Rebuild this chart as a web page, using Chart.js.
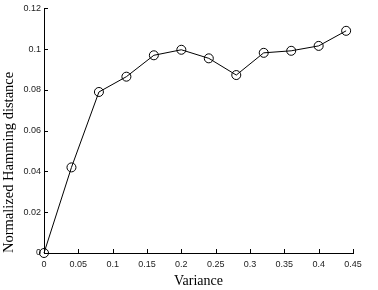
<!DOCTYPE html>
<html>
<head>
<meta charset="utf-8">
<script src="https://cdn.jsdelivr.net/npm/chart.js@4"></script>
<style>
  html, body { margin: 0; padding: 0; background: #fff; }
  #wrap { width: 378px; height: 290px; }
</style>
</head>
<body>
<div id="wrap"><canvas id="myChart" width="378" height="290"></canvas></div>
<script>
// data
const variance = [0, 0.04, 0.08, 0.12, 0.16, 0.2, 0.24, 0.28, 0.32, 0.36, 0.4, 0.44];
const hamming = [0, 0.042, 0.079, 0.0865, 0.097, 0.0997, 0.0955, 0.0873, 0.0982, 0.0992, 0.1016, 0.109];
const xTicks = [0, 0.05, 0.1, 0.15, 0.2, 0.25, 0.3, 0.35, 0.4, 0.45];
const yTicks = [0, 0.02, 0.04, 0.06, 0.08, 0.1, 0.12];

// matlab style inward tick marks
const inwardTicks = {
  id: 'inwardTicks',
  afterDraw(chart) {
    const c = chart.ctx, a = chart.chartArea;
    const xs = chart.scales.x, ys = chart.scales.y;
    c.save();
    c.strokeStyle = '#000';
    c.lineWidth = 1;
    c.beginPath();
    xTicks.forEach(v => {
      const px = Math.round(xs.getPixelForValue(v)) + 0.5;
      c.moveTo(px, a.bottom);
      c.lineTo(px, a.bottom - 4);
    });
    yTicks.forEach(v => {
      const py = Math.round(ys.getPixelForValue(v)) + 0.5;
      c.moveTo(a.left, py);
      c.lineTo(a.left + 4, py);
    });
    c.stroke();
    c.restore();
  }
};

const ctx = document.getElementById('myChart').getContext('2d');
const chart = new Chart(ctx, {
  type: 'line',
  data: {
    datasets: [{
      data: variance.map((v, i) => ({ x: v, y: hamming[i] })),
      borderColor: '#000',
      borderWidth: 1,
      pointRadius: 4.5,
      pointBorderWidth: 1,
      pointBorderColor: '#000',
      pointBackgroundColor: 'rgba(0,0,0,0)',
      tension: 0,
      clip: false
    }]
  },
  options: {
    responsive: false,
    animation: false,
    layout: { padding: { top: 3, right: 25, left: 0, bottom: 0 } },
    plugins: { legend: { display: false }, tooltip: { enabled: false } },
    scales: {
      x: {
        type: 'linear',
        min: 0, max: 0.45,
        afterBuildTicks: s => { s.ticks = xTicks.map(v => ({ value: v })); },
        afterFit: s => { s.height = 37; },
        grid: { display: false, drawTicks: false },
        border: { display: true, color: '#000', width: 1 },
        ticks: {
          padding: 6,
          color: '#222',
          font: { family: 'Liberation Sans, Arial', size: 9 },
          callback: v => String(Number(v.toFixed(2)))
        },
        title: {
          display: true,
          text: 'Variance',
          color: '#000',
          padding: { top: 7, bottom: 0 },
          font: { family: 'Liberation Serif, Times New Roman', size: 14 }
        }
      },
      y: {
        min: 0, max: 0.12,
        afterBuildTicks: s => { s.ticks = yTicks.map(v => ({ value: v })); },
        afterFit: s => { s.width = 44; },
        grid: { display: false, drawTicks: false },
        border: { display: true, color: '#000', width: 1 },
        ticks: {
          padding: 3,
          color: '#222',
          font: { family: 'Liberation Sans, Arial', size: 9 },
          callback: v => String(Number(v.toFixed(2)))
        },
        title: {
          display: true,
          text: 'Normalized Hamming distance',
          color: '#000',
          align: 'start',
          padding: { top: 0, bottom: 2 },
          font: { family: 'Liberation Serif, Times New Roman', size: 14.5 }
        }
      }
    }
  },
  plugins: [inwardTicks]
});
</script>
</body>
</html>
